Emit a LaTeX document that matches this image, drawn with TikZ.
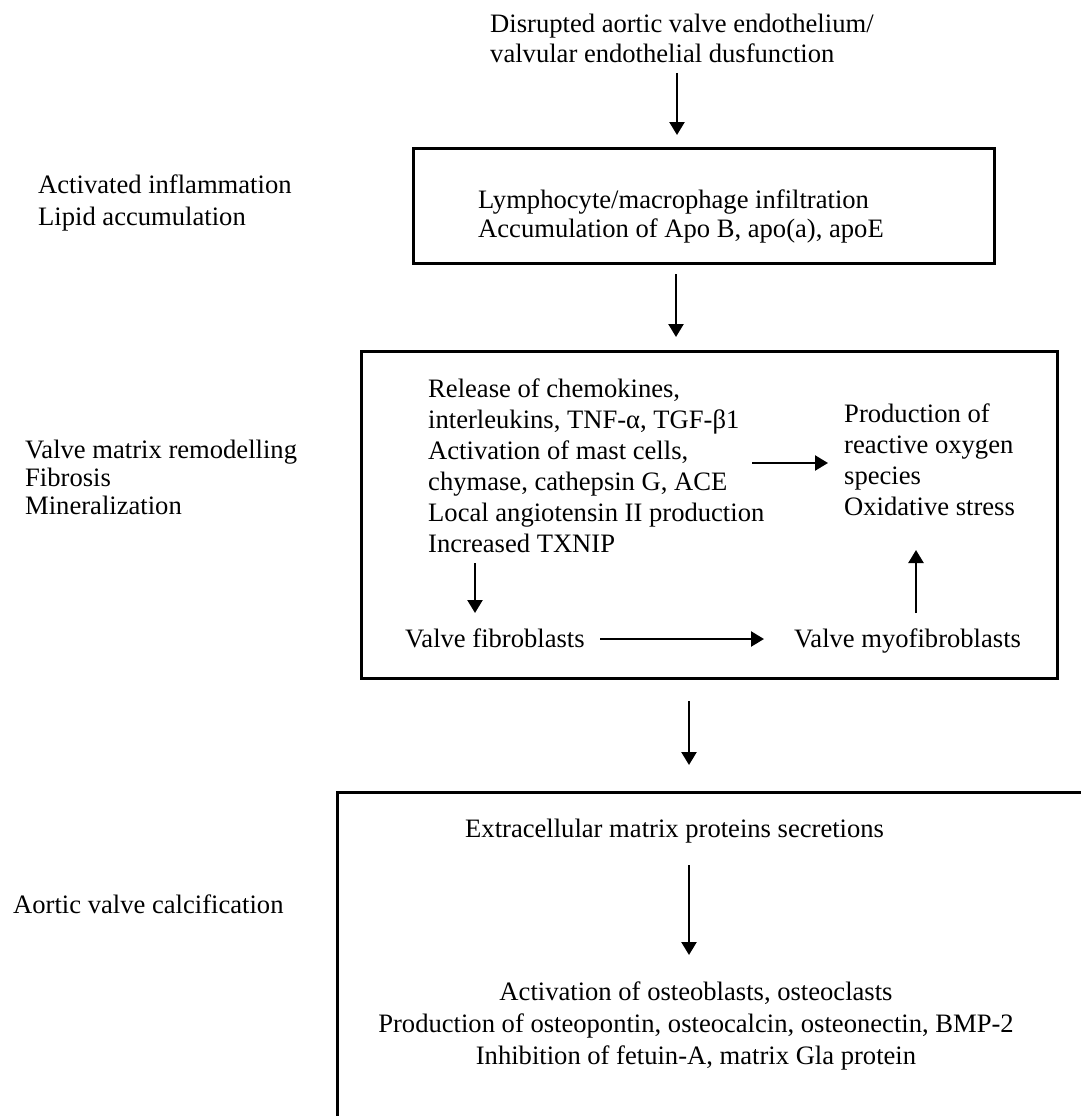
\documentclass[tikz,border=0pt]{standalone}
\usepackage{fontspec}
\setmainfont{Liberation Serif}
\usetikzlibrary{arrows.meta}
\begin{document}
\begin{tikzpicture}[x=1pt,y=-1pt,
  txt/.style={anchor=north west, inner sep=0pt, align=left},
  frame/.style={draw, line width=2.8pt, anchor=north west, inner sep=0pt},
  arr/.style={line width=2.4pt, -{Triangle[width=15pt,length=13pt]}}]
\path[use as bounding box] (0,0) rectangle (1081,1116);
\clip (0,0) rectangle (1081,1116);
% boxes
\node[frame, minimum width=581pt, minimum height=115pt] (b1) at (412,147) {};
\node[frame, minimum width=696pt, minimum height=327pt] (b2) at (360,350) {};
\node[frame, minimum width=800pt, minimum height=420pt] (b3) at (336,791) {};
% texts
\node[txt, font=\fontsize{26.6}{30}\selectfont] (top) at (490,13.5) {Disrupted aortic valve endothelium/\\valvular endothelial dusfunction};
\node[txt, font=\fontsize{26.6}{29}\selectfont] (b1t) at (478,189.5) {Lymphocyte/macrophage infiltration\\Accumulation of Apo B, apo(a), apoE};
\node[txt, font=\fontsize{26.6}{32}\selectfont] (l1) at (38,174.5) {Activated inflammation\\Lipid accumulation};
\node[txt, font=\fontsize{26.6}{28}\selectfont] (l2) at (25,439.5) {Valve matrix remodelling\\Fibrosis\\Mineralization};
\node[txt, font=\fontsize{26.6}{30}\selectfont] (l3) at (13,894.5) {Aortic valve calcification};
\node[txt, font=\fontsize{26.6}{31}\selectfont] (rel) at (428,378.5) {Release of chemokines,\\interleukins, TNF-α, TGF-β1\\Activation of mast cells,\\chymase, cathepsin G, ACE\\Local angiotensin II production\\Increased TXNIP};
\node[txt, font=\fontsize{26.6}{31}\selectfont] (ros) at (844,403.5) {Production of\\reactive oxygen\\species\\Oxidative stress};
\node[txt, font=\fontsize{26.6}{30}\selectfont] (fib) at (405,628.5) {Valve fibroblasts};
\node[txt, font=\fontsize{26.6}{30}\selectfont] (myo) at (794,628.5) {Valve myofibroblasts};
\node[txt, font=\fontsize{26.6}{30}\selectfont] (ecm) at (465,818.5) {Extracellular matrix proteins secretions};
\node[txt, anchor=north, align=center, font=\fontsize{26.6}{32}\selectfont] (ost) at (696,981.5) {Activation of osteoblasts, osteoclasts\\Production of osteopontin, osteocalcin, osteonectin, BMP-2\\Inhibition of fetuin-A, matrix Gla protein};
% arrow ends
\coordinate (a1s) at (677,73);  \coordinate (a1e) at (677,135);
\coordinate (a2s) at (676,274); \coordinate (a2e) at (676,337);
\coordinate (a3s) at (689,701); \coordinate (a3e) at (689,765);
\coordinate (a4s) at (752,463); \coordinate (a4e) at (828,463);
\coordinate (a5s) at (475,563); \coordinate (a5e) at (475,613);
\coordinate (a6s) at (600,639); \coordinate (a6e) at (764,639);
\coordinate (a7s) at (916,613); \coordinate (a7e) at (916,550);
\coordinate (a8s) at (689,865); \coordinate (a8e) at (689,955);
\draw[arr] (a1s) -- (a1e);
\draw[arr] (a2s) -- (a2e);
\draw[arr] (a3s) -- (a3e);
\draw[arr] (a4s) -- (a4e);
\draw[arr] (a5s) -- (a5e);
\draw[arr] (a6s) -- (a6e);
\draw[arr] (a7s) -- (a7e);
\draw[arr] (a8s) -- (a8e);
\end{tikzpicture}
\end{document}
